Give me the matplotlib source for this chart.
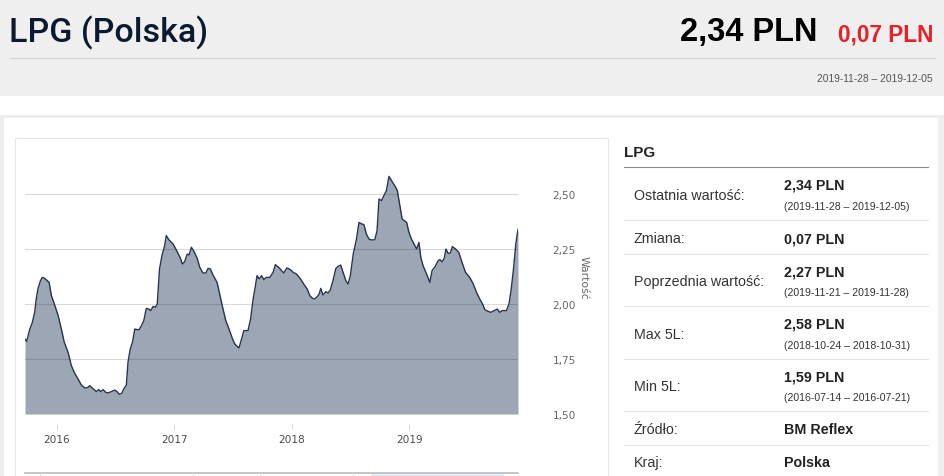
import pandas as pd
import numpy as np
import matplotlib
matplotlib.use("Agg")
import matplotlib.pyplot as plt
import matplotlib.dates as mdates
from matplotlib.patches import Rectangle
from matplotlib.ticker import FuncFormatter

# tygodniowe ceny LPG (PLN/l)
dates = [
    "2015-09-25", "2015-09-30", "2015-10-10", "2015-10-18", "2015-10-25", "2015-10-30",
    "2015-11-04", "2015-11-12", "2015-11-18", "2015-11-25", "2015-12-09", "2015-12-16",
    "2015-12-27", "2016-01-06", "2016-01-16", "2016-01-25", "2016-02-06", "2016-02-16",
    "2016-02-26", "2016-03-08", "2016-03-18", "2016-03-29", "2016-04-08", "2016-04-13",
    "2016-04-24", "2016-05-04", "2016-05-11", "2016-05-17", "2016-05-25", "2016-06-02",
    "2016-06-09", "2016-06-20", "2016-06-30", "2016-07-07", "2016-07-14", "2016-07-21",
    "2016-07-28", "2016-08-05", "2016-08-10", "2016-08-17", "2016-08-24", "2016-08-31",
    "2016-09-13", "2016-09-21", "2016-09-28", "2016-10-06", "2016-10-14", "2016-10-20",
    "2016-10-27", "2016-11-03", "2016-11-09", "2016-11-16", "2016-11-24", "2016-12-02",
    "2016-12-07", "2016-12-15", "2016-12-28", "2017-01-10", "2017-01-20", "2017-01-26",
    "2017-02-02", "2017-02-10", "2017-02-16", "2017-02-23", "2017-03-02", "2017-03-13",
    "2017-03-21", "2017-03-31", "2017-04-09", "2017-04-16", "2017-04-23", "2017-05-01",
    "2017-05-14", "2017-05-22", "2017-05-30", "2017-06-10", "2017-06-20", "2017-07-01",
    "2017-07-08", "2017-07-21", "2017-07-29", "2017-08-05", "2017-08-18", "2017-08-26",
    "2017-09-03", "2017-09-11", "2017-09-15", "2017-09-22", "2017-09-29", "2017-10-06",
    "2017-10-14", "2017-10-25", "2017-11-04", "2017-11-11", "2017-11-23", "2017-12-07",
    "2017-12-17", "2017-12-28", "2018-01-05", "2018-01-16", "2018-01-28", "2018-02-07",
    "2018-02-18", "2018-02-26", "2018-03-06", "2018-03-13", "2018-03-21", "2018-03-27",
    "2018-04-01", "2018-04-08", "2018-04-17", "2018-04-24", "2018-05-01", "2018-05-09",
    "2018-05-18", "2018-05-25", "2018-06-02", "2018-06-10", "2018-06-18", "2018-06-25",
    "2018-07-02", "2018-07-11", "2018-07-21", "2018-07-29", "2018-08-06", "2018-08-13",
    "2018-08-21", "2018-08-29", "2018-09-06", "2018-09-16", "2018-09-23", "2018-09-29",
    "2018-10-07", "2018-10-14", "2018-10-22", "2018-10-30", "2018-11-07", "2018-11-20",
    "2018-11-25", "2018-12-03", "2018-12-10", "2018-12-16", "2018-12-24", "2018-12-31",
    "2019-01-08", "2019-01-16", "2019-01-24", "2019-01-31", "2019-02-06", "2019-02-13",
    "2019-02-24", "2019-03-06", "2019-03-13", "2019-03-21", "2019-04-01", "2019-04-06",
    "2019-04-13", "2019-04-20", "2019-04-25", "2019-05-02", "2019-05-09", "2019-05-15",
    "2019-05-25", "2019-06-04", "2019-06-14", "2019-06-25", "2019-07-08", "2019-07-19",
    "2019-07-29", "2019-08-08", "2019-08-17", "2019-08-24", "2019-09-03", "2019-09-11",
    "2019-09-22", "2019-10-02", "2019-10-09", "2019-10-17", "2019-10-30", "2019-11-07",
    "2019-11-14", "2019-11-21", "2019-11-28", "2019-12-05",
]
prices = [
    1.84, 1.83, 1.886, 1.917, 1.962, 2.023,
    2.068, 2.106, 2.121, 2.117, 2.098, 2.038,
    1.992, 1.947, 1.886, 1.826, 1.780, 1.720,
    1.686, 1.659, 1.632, 1.618, 1.621, 1.629,
    1.614, 1.602, 1.611, 1.602, 1.611, 1.598,
    1.596, 1.602, 1.609, 1.602, 1.59, 1.593,
    1.614, 1.632, 1.735, 1.795, 1.826, 1.886,
    1.882, 1.902, 1.924, 1.980, 1.977, 1.970,
    1.989, 1.985, 2.000, 2.159, 2.223, 2.265,
    2.311, 2.292, 2.273, 2.238, 2.208, 2.182,
    2.192, 2.227, 2.223, 2.258, 2.242, 2.208,
    2.167, 2.141, 2.141, 2.162, 2.159, 2.132,
    2.098, 2.045, 1.992, 1.924, 1.886, 1.841,
    1.818, 1.800, 1.841, 1.879, 1.879, 1.932,
    2.023, 2.091, 2.129, 2.114, 2.129, 2.111,
    2.121, 2.121, 2.144, 2.179, 2.164, 2.141,
    2.164, 2.156, 2.144, 2.136, 2.114, 2.091,
    2.068, 2.038, 2.026, 2.023, 2.033, 2.045,
    2.071, 2.041, 2.056, 2.050, 2.065, 2.106,
    2.162, 2.171, 2.177, 2.141, 2.106, 2.091,
    2.129, 2.227, 2.295, 2.371, 2.364, 2.361,
    2.318, 2.295, 2.291, 2.292, 2.333, 2.477,
    2.470, 2.492, 2.515, 2.580, 2.561, 2.530,
    2.515, 2.447, 2.386, 2.379, 2.371, 2.326,
    2.295, 2.273, 2.250, 2.280, 2.212, 2.174,
    2.136, 2.098, 2.152, 2.167, 2.197, 2.202,
    2.192, 2.208, 2.250, 2.230, 2.232, 2.261,
    2.250, 2.235, 2.189, 2.144, 2.121, 2.091,
    2.053, 2.023, 2.000, 1.974, 1.967, 1.962,
    1.970, 1.977, 1.962, 1.970, 1.970, 2.000,
    2.068, 2.159, 2.27, 2.34,
]
y_ticks = [1.50, 1.75, 2.00, 2.25, 2.50]

table_labels = ["Ostatnia wartość:", "Zmiana:", "Poprzednia wartość:", "Max 5L:", "Min 5L:", "Źródło:", "Kraj:"]
table_values = ["2,34 PLN", "0,07 PLN", "2,27 PLN", "2,58 PLN", "1,59 PLN", "BM Reflex", "Polska"]
table_ranges = ["(2019-11-28 – 2019-12-05)", "", "(2019-11-21 – 2019-11-28)",
                "(2018-10-24 – 2018-10-31)", "(2016-07-14 – 2016-07-21)", "", ""]

W, H = 945, 477
x = pd.to_datetime(dates)

fig = plt.figure(figsize=(W / 100, H / 100), dpi=100)
fig.patch.set_facecolor("white")

# tlo strony w pikselach
bg = fig.add_axes([0, 0, 1, 1], zorder=0)
bg.set_xlim(0, W)
bg.set_ylim(H, 0)
bg.axis("off")

bg.add_patch(Rectangle((0, 0), W, 97, facecolor="#efefef", edgecolor="none"))
bg.plot([10, 935], [58.5, 58.5], color="#d4d4d4", lw=0.8)
bg.add_patch(Rectangle((0, 115.5), W, H - 115.5, facecolor="#eeeeee", edgecolor="none"))
bg.add_patch(Rectangle((3.5, 118.5), 934, H - 118.5, facecolor="white", edgecolor="none"))
bg.add_patch(Rectangle((15, 139), 593, 350, facecolor="none", edgecolor="#e6e6e6", lw=0.8))

# nawigator pod wykresem
bg.add_patch(Rectangle((371, 474), 133, 5, facecolor="#e6ebf5", edgecolor="none"))
bg.plot([25, 518], [474, 474], color="#bbbbbb", lw=1.2)
for xv in [40, 193, 260, 353]:
    bg.plot([xv, xv], [474, 477], color="#dddddd", lw=0.8)

sans = ["Liberation Sans", "DejaVu Sans"]
head = ["Roboto", "Liberation Sans", "DejaVu Sans"]
bg.text(9, 33, "LPG (Polska)", fontsize=24.5, color="#0c1a30", family=head, weight="medium",
        va="center", ha="left")
bg.text(818, 33, "2,34 PLN", fontsize=23.5, color="black", family=sans, weight="bold", va="center", ha="right")
bg.text(933, 35, "0,07 PLN", fontsize=16.3, color="#e8202a", family=sans, weight="bold", va="center", ha="right")
bg.text(933, 79, "2019-11-28 – 2019-12-05", fontsize=7.4, color="#555555", family=sans, va="center", ha="right")

# tabela po prawej
bg.text(624, 153, "LPG", fontsize=11, weight="bold", color="#222222", family=sans, va="center")
bg.plot([624, 928], [168, 168], color="#8a8a8a", lw=0.8)
row_bounds = [168, 221, 255, 307, 360, 412, 446, 480]
for i in range(len(table_labels)):
    top, bot = row_bounds[i], row_bounds[i + 1]
    mid = (top + bot) / 2 + 1.5
    if i > 0:
        bg.plot([624, 928], [top, top], color="#e4e4e4", lw=0.8)
    if i == len(table_labels) - 1:
        mid = 463
    bg.text(634, mid, table_labels[i], fontsize=10.3, color="#333333", family=sans, va="center")
    if table_ranges[i]:
        bg.text(784, mid - 10, table_values[i], fontsize=10.3, weight="bold", color="#222222", family=sans, va="center")
        bg.text(784, mid + 11, table_ranges[i], fontsize=7.6, color="#333333", family=sans, va="center")
    else:
        bg.text(784, mid, table_values[i], fontsize=10.3, weight="bold", color="#222222", family=sans, va="center")

# wykres
ax = fig.add_axes([25 / W, 1 - 415 / H, 493 / W, 275 / H], zorder=2)
ax.patch.set_alpha(0)
ax.fill_between(x, prices, 1.5, color="#9ca6b4", lw=0, zorder=1)
ax.plot(x, prices, color="#26344d", lw=1.0, zorder=3)
ax.set_xlim(x[0], x[-1])
ax.set_ylim(1.5, 2.75)

ax.set_yticks(y_ticks)
ax.yaxis.set_major_formatter(FuncFormatter(lambda v, p: f"{v:.2f}".replace(".", ",")))
ax.yaxis.tick_right()
ax.yaxis.grid(True, color="black", alpha=0.15, lw=0.8)
ax.set_axisbelow(False)
ax.tick_params(axis="y", length=0, pad=25, labelsize=7.6, labelcolor="#666666")

ax.xaxis.set_major_locator(mdates.YearLocator())
ax.xaxis.set_major_formatter(mdates.DateFormatter("%Y"))
ax.spines["bottom"].set_position(("outward", 7.5))
ax.tick_params(axis="x", length=3.5, width=0.7, color="#ccd6eb", pad=3.5,
               labelsize=7.6, labelcolor="#4a4a4a")
for s in ax.spines.values():
    s.set_visible(False)

fig.text(584 / W, 1 - 278 / H, "Wartość", rotation=-90, fontsize=7.8, color="#666666",
         ha="center", va="center")

plt.savefig("out.png", dpi=100, facecolor=fig.get_facecolor())
